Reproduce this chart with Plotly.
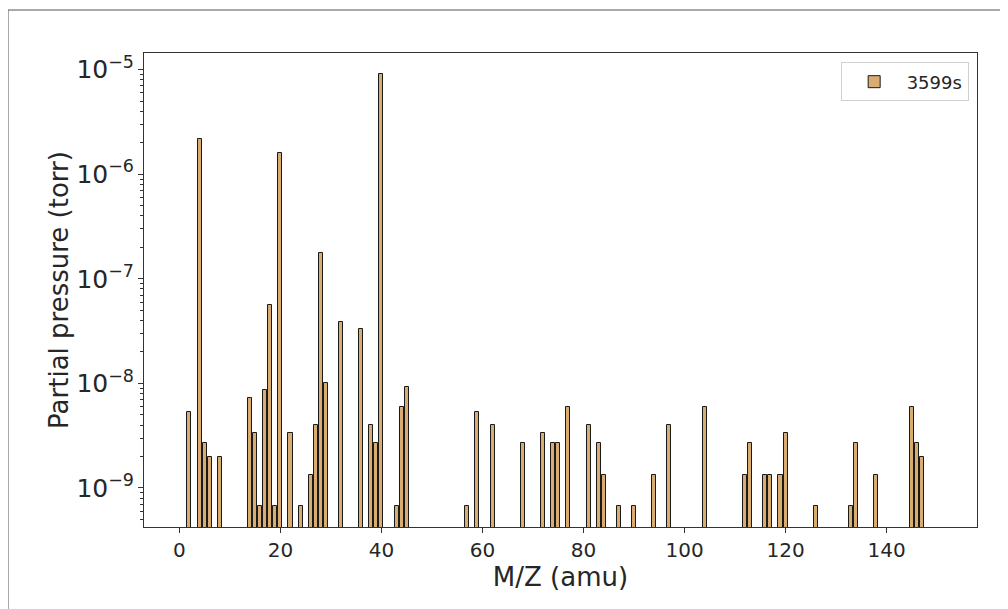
import plotly.graph_objects as go

mz = [2, 4, 5, 6, 8, 14, 15, 16, 17, 18, 19, 20, 22, 24, 26, 27, 28, 29, 32, 36,
      38, 39, 40, 43, 44, 45, 57, 59, 62, 68, 72, 74, 75, 77, 81, 83, 84, 87, 90,
      94, 97, 104, 112, 113, 116, 117, 119, 120, 126, 133, 134, 138, 145, 146, 147]
pressure = [5.33e-9, 2.16e-6, 2.67e-9, 2.0e-9, 2.0e-9, 7.33e-9, 3.33e-9, 6.67e-10,
            8.67e-9, 5.58e-8, 6.67e-10, 1.58e-6, 3.33e-9, 6.67e-10, 1.33e-9, 4.0e-9,
            1.75e-7, 1.0e-8, 3.84e-8, 3.3e-8, 4.0e-9, 2.67e-9, 9.0e-6, 6.67e-10,
            6.0e-9, 9.33e-9, 6.67e-10, 5.33e-9, 4.0e-9, 2.67e-9, 3.33e-9, 2.67e-9,
            2.67e-9, 6.0e-9, 4.0e-9, 2.67e-9, 1.33e-9, 6.67e-10, 6.67e-10, 1.33e-9,
            4.0e-9, 6.0e-9, 1.33e-9, 2.67e-9, 1.33e-9, 1.33e-9, 1.33e-9, 3.33e-9,
            6.67e-10, 6.67e-10, 2.67e-9, 1.33e-9, 6.0e-9, 2.67e-9, 2.0e-9]
series_name = "3599s"
x_ticks = [0, 20, 40, 60, 80, 100, 120, 140]

fig = go.Figure()
fig.add_trace(go.Bar(
    x=mz, y=pressure, name=series_name, width=0.8,
    marker=dict(color="#d9ad72", line=dict(color="#1a1a1a", width=1)),
    showlegend=True,
))

font = "DejaVu Sans, Liberation Sans, sans-serif"
axis_col = "#333333"
fig.update_layout(
    width=1008, height=609,
    margin=dict(l=136, r=39, t=45, b=90),
    paper_bgcolor="white", plot_bgcolor="white",
    font=dict(family=font, color="#262626", size=20),
    bargap=0,
    showlegend=True,
    legend=dict(x=0.99, y=0.98, xanchor="right", yanchor="top",
                bgcolor="white", bordercolor="#d0d0d0", borderwidth=1,
                itemwidth=55,
                font=dict(size=18, color="#262626")),
    xaxis=dict(
        range=[-7.0, 157.9], tickvals=x_ticks, ticks="outside", ticklen=5,
        tickcolor=axis_col, showline=True, linecolor=axis_col, linewidth=1,
        mirror=True, showgrid=False, zeroline=False,
        tickfont=dict(size=20),
        title=dict(text="M/Z (amu)", font=dict(size=26), standoff=6),
    ),
    yaxis=dict(
        type="log", range=[-9.373, -4.841], dtick=1, exponentformat="power",
        ticks="outside", ticklen=5, tickcolor=axis_col,
        showline=True, linecolor=axis_col, linewidth=1, mirror=True,
        showgrid=False, zeroline=False, tickfont=dict(size=20),
        minor=dict(ticks="outside", ticklen=3, tickcolor=axis_col, showgrid=False),
        title=dict(text="Partial pressure (torr)", font=dict(size=26), standoff=0),
    ),
)

# outer figure frame (partially outside the window)
fig.add_shape(type="rect", xref="paper", yref="paper",
              x0=-136 / 833, x1=1.2, y0=-0.3, y1=1 + 43 / 474,
              line=dict(color="#555555", width=1), fillcolor="rgba(0,0,0,0)",
              layer="below")

fig.write_html("out.html")
